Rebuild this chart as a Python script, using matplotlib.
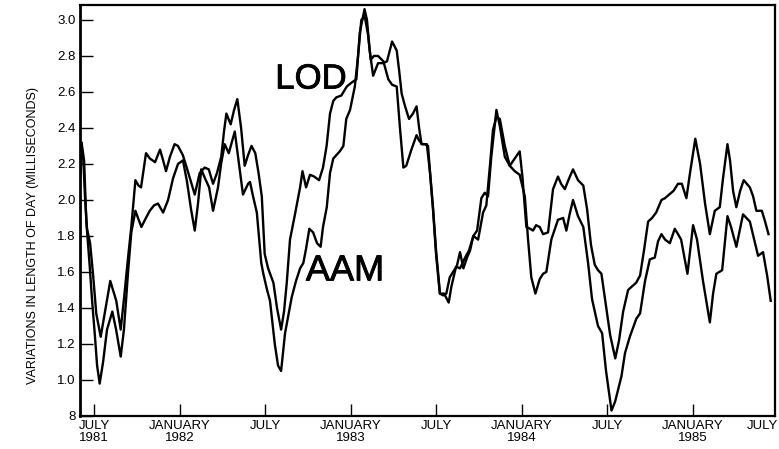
import matplotlib
matplotlib.use("Agg")
import matplotlib.pyplot as plt
import matplotlib.patheffects as pe

plt.rcParams['font.family'] = ['Liberation Sans', 'DejaVu Sans']

# length of day (decimal year, ms)
lod_t = [1981.418, 1981.427, 1981.436, 1981.447, 1981.459, 1981.477, 1981.494, 1981.513,
         1981.539, 1981.564, 1981.595, 1981.611, 1981.630, 1981.656, 1981.675, 1981.699,
         1981.718, 1981.742, 1981.760, 1981.775, 1981.804, 1981.827, 1981.857, 1981.886,
         1981.904, 1981.921, 1981.944, 1981.971, 1981.991, 1982.019, 1982.042, 1982.061,
         1982.089, 1982.118, 1982.147, 1982.171, 1982.196, 1982.219, 1982.244, 1982.260,
         1982.274, 1982.299, 1982.319, 1982.338, 1982.360, 1982.381, 1982.401, 1982.421,
         1982.443, 1982.462, 1982.481, 1982.498, 1982.518, 1982.549, 1982.570, 1982.594,
         1982.611, 1982.627, 1982.646, 1982.675, 1982.705, 1982.719, 1982.740, 1982.763,
         1982.787, 1982.816, 1982.839, 1982.860, 1982.880, 1982.899, 1982.917, 1982.946,
         1982.978, 1983.003, 1983.034, 1983.054, 1983.082, 1983.096, 1983.112, 1983.132,
         1983.161, 1983.190, 1983.213, 1983.243, 1983.270, 1983.284, 1983.299, 1983.319,
         1983.342, 1983.365, 1983.386, 1983.401, 1983.415, 1983.436, 1983.453, 1983.465,
         1983.482, 1983.500, 1983.523, 1983.541, 1983.560, 1983.580, 1983.599, 1983.621,
         1983.640, 1983.660, 1983.681, 1983.699, 1983.718, 1983.740, 1983.765, 1983.785,
         1983.804, 1983.823, 1983.853, 1983.873, 1983.902, 1983.931, 1983.960, 1983.989,
         1984.005, 1984.028, 1984.050, 1984.067, 1984.085, 1984.106, 1984.126, 1984.155,
         1984.184, 1984.213, 1984.231, 1984.253, 1984.278, 1984.301, 1984.330, 1984.361,
         1984.383, 1984.406, 1984.428, 1984.447, 1984.467, 1984.488, 1984.518, 1984.548,
         1984.570, 1984.594, 1984.623, 1984.646, 1984.670, 1984.693, 1984.716, 1984.740,
         1984.763, 1984.787, 1984.818, 1984.839, 1984.863, 1984.888, 1984.915, 1984.937,
         1984.964, 1984.985, 1985.016, 1985.044, 1985.073, 1985.101, 1985.130, 1985.159,
         1985.178, 1985.204, 1985.219, 1985.237, 1985.256, 1985.278, 1985.299, 1985.335,
         1985.354, 1985.373, 1985.405, 1985.424, 1985.444]
lod_ms = [2.20, 2.32, 2.26, 2.02, 1.84, 1.76, 1.59, 1.37,
          1.24, 1.38, 1.55, 1.50, 1.44, 1.28, 1.45, 1.68,
          1.85, 2.11, 2.08, 2.07, 2.26, 2.23, 2.21, 2.28,
          2.22, 2.16, 2.24, 2.31, 2.30, 2.25, 2.18, 2.12,
          2.03, 2.15, 2.18, 2.17, 2.09, 2.15, 2.24, 2.38,
          2.48, 2.42, 2.50, 2.56, 2.40, 2.19, 2.25, 2.30,
          2.26, 2.15, 2.02, 1.70, 1.62, 1.54, 1.40, 1.28,
          1.38, 1.54, 1.78, 1.92, 2.07, 2.16, 2.07, 2.14,
          2.13, 2.11, 2.18, 2.30, 2.48, 2.55, 2.57, 2.58,
          2.63, 2.65, 2.67, 2.93, 3.06, 3.00, 2.83, 2.69,
          2.76, 2.76, 2.77, 2.88, 2.83, 2.72, 2.59, 2.52,
          2.45, 2.48, 2.52, 2.40, 2.31, 2.31, 2.30, 2.15,
          1.96, 1.72, 1.48, 1.47, 1.48, 1.57, 1.60, 1.63,
          1.71, 1.62, 1.68, 1.72, 1.80, 1.83, 2.01, 2.04,
          2.02, 2.24, 2.50, 2.41, 2.24, 2.19, 2.23, 2.27,
          2.13, 1.85, 1.84, 1.83, 1.86, 1.85, 1.81, 1.82,
          2.06, 2.13, 2.09, 2.06, 2.12, 2.17, 2.11, 2.08,
          1.95, 1.75, 1.64, 1.61, 1.59, 1.45, 1.25, 1.12,
          1.22, 1.38, 1.50, 1.52, 1.54, 1.58, 1.72, 1.88,
          1.90, 1.93, 2.00, 2.01, 2.03, 2.05, 2.09, 2.09,
          2.01, 2.15, 2.34, 2.20, 1.98, 1.81, 1.94, 1.96,
          2.12, 2.31, 2.22, 2.05, 1.96, 2.05, 2.11, 2.07,
          2.02, 1.94, 1.94, 1.88, 1.81]

# atmospheric angular momentum expressed as length of day
aam_t = [1981.418, 1981.430, 1981.442, 1981.455, 1981.475, 1981.488, 1981.504, 1981.518,
         1981.533, 1981.553, 1981.576, 1981.607, 1981.629, 1981.656, 1981.675, 1981.699,
         1981.718, 1981.742, 1981.757, 1981.777, 1981.798, 1981.826, 1981.851, 1981.874,
         1981.904, 1981.933, 1981.962, 1981.991, 1982.020, 1982.044, 1982.067, 1982.089,
         1982.108, 1982.127, 1982.149, 1982.173, 1982.196, 1982.225, 1982.243, 1982.264,
         1982.288, 1982.323, 1982.348, 1982.371, 1982.401, 1982.412, 1982.430, 1982.452,
         1982.478, 1982.490, 1982.512, 1982.529, 1982.557, 1982.576, 1982.594, 1982.617,
         1982.656, 1982.681, 1982.705, 1982.724, 1982.740, 1982.759, 1982.781, 1982.804,
         1982.825, 1982.839, 1982.861, 1982.880, 1982.899, 1982.937, 1982.958, 1982.975,
         1982.997, 1983.025, 1983.044, 1983.063, 1983.083, 1983.102, 1983.118, 1983.137,
         1983.161, 1983.192, 1983.221, 1983.243, 1983.270, 1983.289, 1983.309, 1983.326,
         1983.356, 1983.386, 1983.401, 1983.418, 1983.446, 1983.465, 1983.482, 1983.500,
         1983.522, 1983.547, 1983.574, 1983.590, 1983.617, 1983.640, 1983.670, 1983.693,
         1983.718, 1983.746, 1983.775, 1983.794, 1983.816, 1983.833, 1983.853, 1983.873,
         1983.902, 1983.931, 1983.960, 1983.989, 1984.019, 1984.038, 1984.057, 1984.081,
         1984.106, 1984.126, 1984.145, 1984.174, 1984.213, 1984.243, 1984.262, 1984.281,
         1984.301, 1984.330, 1984.361, 1984.389, 1984.412, 1984.440, 1984.447, 1984.471,
         1984.494, 1984.526, 1984.547, 1984.584, 1984.605, 1984.633, 1984.671, 1984.693,
         1984.722, 1984.750, 1984.779, 1984.798, 1984.818, 1984.839, 1984.867, 1984.896,
         1984.915, 1984.933, 1984.970, 1985.003, 1985.026, 1985.061, 1985.101, 1985.120,
         1985.139, 1985.173, 1985.204, 1985.225, 1985.256, 1985.295, 1985.335, 1985.360,
         1985.383, 1985.412, 1985.436, 1985.457]
aam_ms = [2.10, 2.28, 2.22, 1.88, 1.63, 1.45, 1.26, 1.08,
          0.98, 1.10, 1.28, 1.38, 1.28, 1.13, 1.28, 1.60,
          1.82, 1.94, 1.90, 1.85, 1.89, 1.94, 1.97, 1.98,
          1.93, 2.00, 2.12, 2.20, 2.22, 2.10, 1.95, 1.83,
          1.98, 2.17, 2.12, 2.07, 1.94, 2.07, 2.20, 2.31,
          2.26, 2.38, 2.20, 2.03, 2.09, 2.10, 2.02, 1.93,
          1.65, 1.59, 1.50, 1.44, 1.20, 1.08, 1.05, 1.26,
          1.46, 1.55, 1.62, 1.65, 1.73, 1.84, 1.82, 1.76,
          1.74, 1.85, 1.96, 2.15, 2.23, 2.27, 2.30, 2.45,
          2.50, 2.63, 2.80, 3.00, 3.02, 2.92, 2.78, 2.80,
          2.80, 2.77, 2.67, 2.64, 2.63, 2.40, 2.18, 2.19,
          2.28, 2.36, 2.33, 2.31, 2.31, 2.15, 1.95, 1.70,
          1.48, 1.48, 1.43, 1.52, 1.63, 1.62, 1.68, 1.72,
          1.80, 1.78, 1.93, 1.97, 2.20, 2.39, 2.46, 2.45,
          2.30, 2.19, 2.16, 2.14, 2.02, 1.78, 1.57, 1.48,
          1.56, 1.59, 1.60, 1.78, 1.89, 1.90, 1.83, 1.92,
          2.00, 1.91, 1.85, 1.65, 1.45, 1.33, 1.30, 1.26,
          1.05, 0.83, 0.88, 1.02, 1.15, 1.24, 1.34, 1.37,
          1.55, 1.67, 1.68, 1.77, 1.81, 1.78, 1.76, 1.84,
          1.81, 1.78, 1.59, 1.86, 1.78, 1.55, 1.32, 1.48,
          1.59, 1.61, 1.91, 1.85, 1.74, 1.92, 1.88, 1.78,
          1.69, 1.71, 1.58, 1.44]

tick_pos = [1981.5, 1982.0, 1982.5, 1983.0, 1983.5, 1984.0, 1984.5, 1985.0]
tick_text = ["JULY\n1981", "JANUARY\n1982", "JULY", "JANUARY\n1983",
             "JULY", "JANUARY\n1984", "JULY", "JANUARY\n1985"]
ytick_pos = [0.8, 1.0, 1.2, 1.4, 1.6, 1.8, 2.0, 2.2, 2.4, 2.6, 2.8, 3.0]
ytick_text = ["8", "1.0", "1.2", "1.4", "1.6", "1.8", "2.0", "2.2", "2.4", "2.6", "2.8", "3.0"]

fig = plt.figure(figsize=(7.79, 4.49), dpi=100)
ax = fig.add_axes([80 / 779, 1 - 416 / 449, 695 / 779, 411 / 449])

ax.plot(lod_t, lod_ms, color='black', linewidth=1.7, solid_joinstyle='round')
ax.plot(aam_t, aam_ms, color='black', linewidth=1.7, solid_joinstyle='round')

ax.set_xlim(1981.418, 1985.482)
ax.set_ylim(0.8, 3.083)

ax.set_xticks(tick_pos, tick_text)
ax.set_yticks(ytick_pos, ytick_text)
ax.tick_params(direction='in', length=9, width=1.0, labelsize=9.5, colors='black')
ax.tick_params(axis='x', pad=3)
ax.tick_params(axis='y', pad=3)
for lab in ax.get_xticklabels():
    lab.set_linespacing(1.0)

# last July falls on the right edge of the frame
ax.text(1985.5, -0.01, "JULY", transform=ax.get_xaxis_transform(),
        ha='right', va='top', fontsize=9.5)

ax.spines['left'].set_linewidth(2.0)
for side in ['right', 'top', 'bottom']:
    ax.spines[side].set_linewidth(1.6)

# curve names, medium lettering
medium = [pe.withStroke(linewidth=0.6, foreground='black')]
ax.text(1982.769, 2.672, "LOD", fontsize=25, ha='center', va='center',
        path_effects=medium)
ax.text(1982.968, 1.606, "AAM", fontsize=26, ha='center', va='center',
        path_effects=medium)

fig.text(33 / 779, 1 - 235 / 449, "VARIATIONS IN LENGTH OF DAY (MILLISECONDS)",
         rotation=90, ha='center', va='center', fontsize=9)

fig.savefig("out.png", dpi=100)
